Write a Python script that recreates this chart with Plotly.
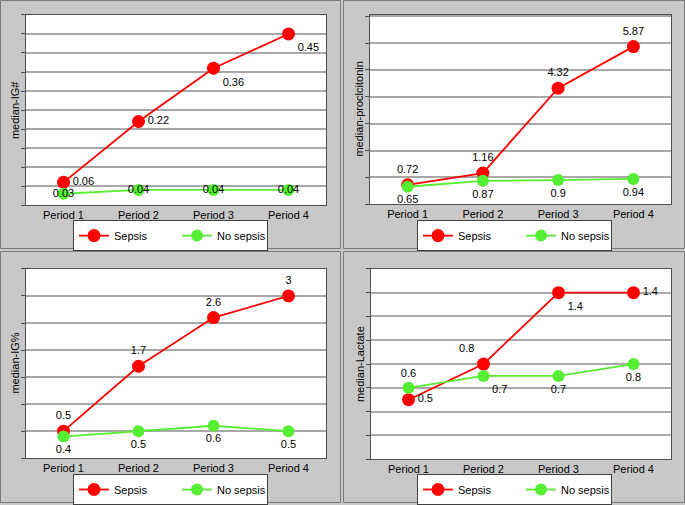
import plotly.graph_objects as go

W, H = 685, 505

periods = ["Period 1", "Period 2", "Period 3", "Period 4"]
series_names = ["Sepsis", "No sepsis"]

ig_abs_sepsis = [0.06, 0.22, 0.36, 0.45]
ig_abs_nosepsis = [0.03, 0.04, 0.04, 0.04]

pct_sepsis = [0.72, 1.16, 4.32, 5.87]
pct_nosepsis = [0.65, 0.87, 0.9, 0.94]

igpct_sepsis = [0.5, 1.7, 2.6, 3]
igpct_nosepsis = [0.4, 0.5, 0.6, 0.5]

lac_sepsis = [0.5, 0.8, 1.4, 1.4]
lac_nosepsis = [0.6, 0.7, 0.7, 0.8]

y_titles = ["median-IG#", "median-proclcitonin", "median-IG%", "median-Lactate"]

RED = "#ff0000"
GREEN = "#55ee33"
FONT = "Liberation Sans, Arial, sans-serif"


def px_x(p):
    return p / W


def px_y(p):
    return 1 - p / H


# panel boxes (pixels: x0, y0, x1, y1)
panels = [(0, 0, 341, 250), (343, 0, 685, 250), (0, 252, 341, 505), (343, 252, 685, 505)]
# plot areas (pixels)
plots = [(26, 15, 326, 206), (370, 15, 671, 205), (26, 270, 326, 460), (371, 270, 671, 461)]
# legend left / top (pixels)
legends = [(73, 221), (417, 221), (73, 476), (417, 476)]
yranges = [[0, 0.5], [0, 7.05], [0, 3.5], [0, 1.6]]
ydticks = [0.05, 1, 0.5, 0.2]

data = [
    (ig_abs_sepsis, ig_abs_nosepsis,
     ["middle right", "middle right", "bottom right", "bottom right"],
     ["middle center"] * 4),
    (pct_sepsis, pct_nosepsis, ["top center"] * 4, ["bottom center"] * 4),
    (igpct_sepsis, igpct_nosepsis, ["top center"] * 4, ["bottom center"] * 4),
    (lac_sepsis, lac_nosepsis,
     ["middle right", "top left", "bottom right", "middle right"],
     ["top center", "bottom right", "bottom center", "bottom center"]),
]

fig = go.Figure()
layout = dict(
    width=W, height=H,
    margin=dict(l=0, r=0, t=0, b=0),
    paper_bgcolor="#c8c8c8",
    plot_bgcolor="#ffffff",
    font=dict(family=FONT, size=11, color="#000000"),
    shapes=[], annotations=[],
)

for i in range(4):
    n = "" if i == 0 else str(i + 1)
    xa, ya = "x" + n, "y" + n
    leg = "legend" + n
    s_vals, n_vals, s_pos, n_pos = data[i]
    fig.add_trace(go.Scatter(
        x=periods, y=s_vals, name=series_names[0], mode="lines+markers+text",
        line=dict(color=RED, width=1.8), marker=dict(color=RED, size=13),
        texttemplate="%{y}", textposition=s_pos, textfont=dict(size=11, color="#000"),
        cliponaxis=False, xaxis=xa, yaxis=ya, legend=leg, legendwidth=58))
    fig.add_trace(go.Scatter(
        x=periods, y=n_vals, name=series_names[1], mode="lines+markers+text",
        line=dict(color=GREEN, width=1.8), marker=dict(color=GREEN, size=12),
        texttemplate="%{y}", textposition=n_pos, textfont=dict(size=11, color="#000"),
        cliponaxis=False, xaxis=xa, yaxis=ya, legend=leg, legendwidth=45))

    px0, py0, px1, py1 = plots[i]
    layout["xaxis" + n] = dict(
        domain=[px_x(px0), px_x(px1)], anchor=ya, type="category",
        range=[-0.5, 3.5], showgrid=False, showline=True, mirror=True,
        linecolor="#505050", linewidth=1, ticks="", zeroline=False,
        tickfont=dict(size=11, color="#000"), automargin=False)
    layout["yaxis" + n] = dict(
        domain=[px_y(py1), px_y(py0)], anchor=xa, range=yranges[i],
        dtick=ydticks[i], tick0=0, showticklabels=False, showgrid=True,
        gridcolor="#a8a8a8", gridwidth=1.5, showline=True, mirror=True,
        linecolor="#505050", linewidth=1, ticks="outside", ticklen=4,
        tickcolor="#505050", zeroline=False, automargin=False)

    lx, ly = legends[i]
    layout[leg] = dict(
        x=px_x(lx), y=px_y(ly), xanchor="left", yanchor="top",
        orientation="h", bgcolor="#ffffff", bordercolor="#404040",
        borderwidth=1, font=dict(size=11, color="#000"), itemwidth=30)

    bx0, by0, bx1, by1 = panels[i]
    layout["shapes"].append(dict(
        type="rect", xref="paper", yref="paper",
        x0=px_x(bx0 + 0.5), x1=px_x(bx1 - 0.5), y0=px_y(by1 - 0.5), y1=px_y(by0 + 0.5),
        line=dict(color="#7a7a7a", width=1), fillcolor="rgba(0,0,0,0)", layer="below"))

    layout["annotations"].append(dict(
        text=y_titles[i], xref="paper", yref="paper",
        x=px_x(px0 - 11), y=px_y((py0 + py1) / 2), xanchor="center", yanchor="middle",
        textangle=-90, showarrow=False, font=dict(size=11, color="#000")))

fig.update_layout(**layout)
fig.write_html("out.html", config={"displayModeBar": False},
               post_script="document.body.style.margin='0';document.body.style.overflow='hidden';")
